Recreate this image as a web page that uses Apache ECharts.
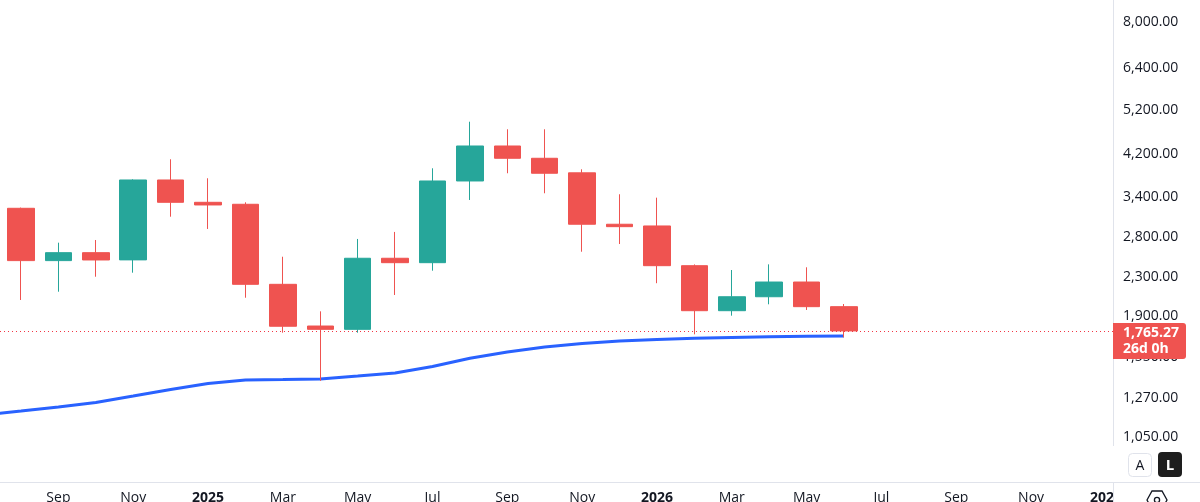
<!DOCTYPE html>
<html><head><meta charset="utf-8">
<script src="https://cdn.jsdelivr.net/npm/echarts@6/dist/echarts.min.js"></script>
<style>html,body{margin:0;padding:0;background:#fff;overflow:hidden}#c{width:1200px;height:502px}</style>
</head><body><div id="c"></div>
<script>
// ---- data ----
const months = ['2024-08','2024-09','2024-10','2024-11','2024-12','2025-01','2025-02','2025-03','2025-04','2025-05','2025-06','2025-07','2025-08','2025-09','2025-10','2025-11','2025-12','2026-01','2026-02','2026-03','2026-04','2026-05','2026-06'];
const opens  = [3219,2491,2590,2500,3698,3315,3283,2218,1808,1779,2520,2466,3680,4368,4113,3830,2977,2952,2430,1949,2087,2243,1988];
const closes = [2491,2590,2499,3698,3315,3272,2218,1806,1779,2520,2466,3680,4368,4113,3822,2977,2942,2430,1949,2087,2243,1988,1765.27];
const lows   = [2054,2139,2302,2348,3089,2909,2077,1750,1382,1750,2105,2371,3353,3822,3465,2602,2702,2230,1736,1902,2011,1956,1711];
const highs  = [3230,2720,2756,3710,4093,3729,3315,2539,1943,2770,2867,3916,4920,4741,4741,3897,3448,3391,2445,2379,2446,2411,2014];
const maMonths = ['2024-07','2024-08','2024-09','2024-10','2024-11','2024-12','2025-01','2025-02','2025-03','2025-04','2025-05','2025-06','2025-07','2025-08','2025-09','2025-10','2025-11','2025-12','2026-01','2026-02','2026-03','2026-04','2026-05','2026-06'];
const maValues = [1170,1192,1216,1243,1283,1325,1364,1388,1391,1395,1415,1437,1483,1544,1592,1631,1659,1680,1693,1703,1709,1715,1719,1722];
const priceTicks = [1050,1270,1550,1900,2300,2800,3400,4200,5200,6400,8000];
const timeTickMonths = ['2024-09','2024-11','2025-01','2025-03','2025-05','2025-07','2025-09','2025-11','2026-01','2026-03','2026-05','2026-07','2026-09','2026-11','2027-01'];
const timeTickLabels = ['Sep','Nov','2025','Mar','May','Jul','Sep','Nov','2026','Mar','May','Jul','Sep','Nov','2027'];
const countdownText = '26d 0h';

// ---- helpers ----
function monthIndex(s){ const p = s.split('-').map(Number); return (p[0]-2024)*12 + (p[1]-8); }
const FONT = '"Open Sans", Roboto, sans-serif';
const UP = '#26a69a', DOWN = '#ef5350', TXT = '#131722', SEP = '#e0e3eb';
const yMin = 842, yMax = 8932;
const xMin = -0.5613, xMax = 29.19;
const lastClose = closes[closes.length-1];
const fmtPrice = v => v.toLocaleString('en-US',{minimumFractionDigits:2, maximumFractionDigits:2});

const candleData = months.map((m,i)=>[monthIndex(m), opens[i], closes[i], lows[i], highs[i]]);
const maData = maMonths.map((m,i)=>[monthIndex(m), maValues[i]]);
const timeTickIdx = timeTickMonths.map(monthIndex);

const chart = echarts.init(document.getElementById('c'), null, {renderer:'canvas', width:1200, height:502});
chart.setOption({
  animation:false,
  backgroundColor:'#ffffff',
  grid:{left:0, right:87, top:0, bottom:20, containLabel:false, outerBoundsMode:'none'},
  xAxis:{
    type:'value', min:xMin, max:xMax,
    axisLine:{show:false}, axisTick:{show:false}, splitLine:{show:false},
    axisLabel:{
      customValues: timeTickIdx, margin:9, color:TXT, fontSize:14, fontFamily:FONT,
      formatter: v => { const k = timeTickIdx.indexOf(Math.round(v)); if (k<0) return ''; const t = timeTickLabels[k]; return /^\d{4}$/.test(t) ? '{b|'+t+'}' : t; },
      rich:{ b:{fontWeight:'bold', fontSize:14, color:TXT, fontFamily:FONT} }
    }
  },
  yAxis:[
    { type:'log', logBase:10, min:yMin, max:yMax, show:false },
    { type:'value', position:'right', min:Math.log(yMin), max:Math.log(yMax),
      axisLine:{show:false}, axisTick:{show:false}, splitLine:{show:false},
      axisLabel:{
        customValues: priceTicks.map(Math.log), margin:10, color:TXT, fontSize:14, fontFamily:FONT,
        padding:[4,0,0,0],
        formatter: v => { const p = Math.exp(v); let best = priceTicks[0]; priceTicks.forEach(t=>{ if (Math.abs(t-p) < Math.abs(best-p)) best = t; }); return fmtPrice(best); }
      }
    }
  ],
  series:[
    { type:'line', xAxisIndex:0, yAxisIndex:0, data:maData, showSymbol:false, z:1,
      lineStyle:{color:'#2962ff', width:3}, silent:true },
    { type:'candlestick', xAxisIndex:0, yAxisIndex:0, data:candleData, barWidth:27, z:3,
      encode:{x:0, y:[1,2,3,4]},
      itemStyle:{color:UP, color0:DOWN, borderColor:UP, borderColor0:DOWN, borderWidth:1},
      markLine:{ silent:true, symbol:'none', label:{show:false},
        lineStyle:{color:'#f23645', type:[1,3], width:1, opacity:1},
        data:[{yAxis:lastClose}] }
    }
  ],
  graphic:[
    { type:'line', z:50, shape:{x1:1113.5, y1:0, x2:1113.5, y2:446}, style:{stroke:SEP, lineWidth:1} },
    { type:'rect', z:50, shape:{x:1114, y:483, width:86, height:19}, style:{fill:'#ffffff'} },
    { type:'line', z:51, shape:{x1:0, y1:482.5, x2:1200, y2:482.5}, style:{stroke:SEP, lineWidth:1} },
    { type:'line', z:51, shape:{x1:1113.5, y1:482, x2:1113.5, y2:502}, style:{stroke:SEP, lineWidth:1} },
    { type:'rect', z:60, shape:{x:1113, y:323, width:73, height:36, r:[0,3,3,0]}, style:{fill:DOWN} },
    { type:'text', z:61, x:1123, y:333, style:{text:fmtPrice(lastClose), fill:'#ffffff', font:'bold 14px '+FONT, verticalAlign:'middle', align:'left'} },
    { type:'text', z:61, x:1123, y:349.5, style:{text:countdownText, fill:'#ffffff', font:'bold 14px '+FONT, verticalAlign:'middle', align:'left'} },
    { type:'rect', z:60, shape:{x:1128.5, y:453.5, width:23, height:23, r:4}, style:{fill:'#ffffff', stroke:SEP, lineWidth:1} },
    { type:'text', z:61, x:1140, y:466, style:{text:'A', fill:TXT, font:'14px '+FONT, align:'center', verticalAlign:'middle'} },
    { type:'rect', z:60, shape:{x:1158, y:452, width:24, height:25, r:4}, style:{fill:'#1e1e1e'} },
    { type:'text', z:61, x:1170, y:465.5, style:{text:'L', fill:'#ffffff', font:'bold 15px '+FONT, align:'center', verticalAlign:'middle'} },
    { type:'polygon', z:61, shape:{points:[[1147,500],[1152,491],[1162,491],[1167,500],[1162,509],[1152,509]]}, style:{fill:'none', stroke:TXT, lineWidth:1.3} },
    { type:'circle', z:61, shape:{cx:1157, cy:500, r:2.6}, style:{fill:'none', stroke:TXT, lineWidth:1.3} }
  ]
});
</script>
</body></html>
